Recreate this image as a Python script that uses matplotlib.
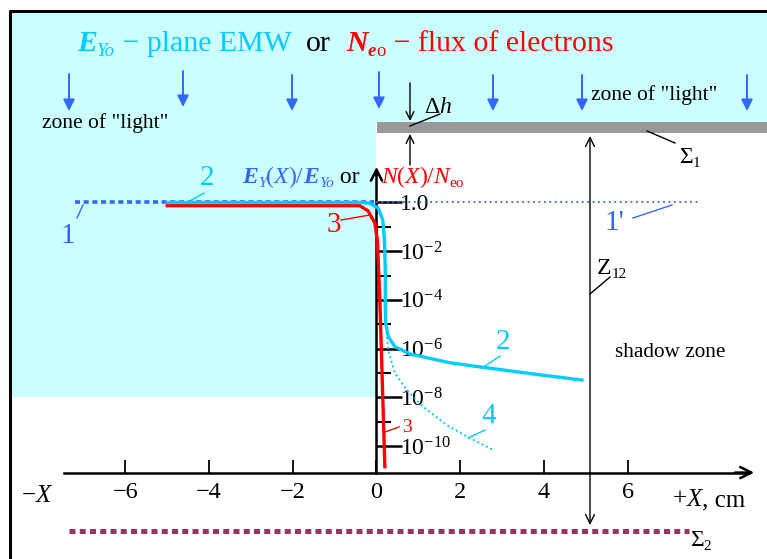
import matplotlib
matplotlib.use('Agg')
import matplotlib.pyplot as plt
from matplotlib.transforms import Affine2D
from matplotlib.patches import Rectangle
from matplotlib.ticker import FixedLocator, FixedFormatter, NullFormatter

plt.rcParams['font.family'] = ['Liberation Serif', 'DejaVu Serif']
plt.rcParams['mathtext.fontset'] = 'custom'
plt.rcParams['mathtext.rm'] = 'Liberation Serif'
plt.rcParams['mathtext.it'] = 'Liberation Serif:italic'
plt.rcParams['mathtext.bf'] = 'Liberation Serif:bold'

# ---------------- data ----------------
x_ticks = [-6, -4, -2, 0, 2, 4, 6]
x_tick_labels = ['\u22126', '\u22124', '\u22122', '0', '2', '4', '6']
y_major = [1.0, 1e-2, 1e-4, 1e-6, 1e-8, 1e-10]
y_major_labels = ['1.0', r'$10^{-2}$', r'$10^{-4}$', r'$10^{-6}$', r'$10^{-8}$', r'$10^{-10}$']
y_minor = [1e-1, 1e-3, 1e-5, 1e-7, 1e-9]

# curve 1 : plane EMW (dotted), left part and 1' right part
curve1_x = [-7.2, -0.05]
curve1_y = [1.0, 1.0]
curve1p_x = [0.0, 7.68]
curve1p_y = [1.0, 1.0]

# curve 2 : E_Y(X)/E_Yo
curve2_x = [-5.0, -0.35, -0.16, 0.04, 0.15, 0.19, 0.21, 0.21, 0.22, 0.28, 0.44, 0.80, 1.76, 2.55, 3.74, 4.91]
curve2_y = [1.0, 1.0, 0.93, 0.59, 0.19, 2.9e-2, 1.6e-3, 5.0e-5, 1.1e-5, 3.1e-6, 1.2e-6, 6.0e-7, 2.6e-7, 1.7e-7, 9.1e-8, 5.1e-8]

# curve 3 : N(X)/N_eo
curve3_x = [-5.0, -0.40, -0.20, -0.04, 0.02, 0.08, 0.20]
curve3_y = [0.74, 0.74, 0.45, 0.145, 2.9e-2, 1.0e-4, 1.4e-11]

# curve 4 : dotted branch
curve4_x = [0.19, 0.21, 0.22, 0.28, 0.44, 0.72, 1.11, 1.68, 2.23, 2.79]
curve4_y = [2.9e-2, 1.0e-3, 1.1e-5, 8.7e-7, 1.0e-7, 2.0e-8, 4.1e-9, 7.2e-10, 2.1e-10, 6.9e-11]

X_AXIS_Y = 8.1e-12   # level of the horizontal axis
Y_AXIS_TOP = 2.0e1

# colours
CYAN = '#00ccff'
BLUE = '#3366ff'
RED = '#ff0000'
BG = '#ccffff'
MAROON = '#993366'

W, H = 767, 559
fig = plt.figure(figsize=(W / 100, H / 100), dpi=100)
ax = fig.add_axes([0, 0, 1, 1])
ax.set_yscale('log')
ax.set_xlim(-8.996, 9.331)
ax.set_ylim(10 ** -14.641, 10 ** 8.316)
ax.patch.set_facecolor('white')

pix = Affine2D().scale(1 / W, -1 / H).translate(0, 1) + fig.transFigure
r = fig.canvas.get_renderer()

# ---------------- background ----------------
ax.add_patch(Rectangle((10, 11), 760, 111, transform=pix, facecolor=BG, edgecolor='none', zorder=0))
ax.add_patch(Rectangle((10, 122), 366, 275, transform=pix, facecolor=BG, edgecolor='none', zorder=0))
ax.add_patch(Rectangle((377, 122), 400, 11, transform=pix, facecolor='#999999', edgecolor='none', zorder=1))
ax.plot([10, 10, 780], [570, 11, 11], transform=pix, color='black', lw=2.2, zorder=5, clip_on=False)

# ---------------- axes (spines) ----------------
for s in ['left', 'top']:
    ax.spines[s].set_visible(False)
ax.spines['right'].set_position(('data', 0))
ax.spines['right'].set_bounds(X_AXIS_Y, 10 ** 1.2)
ax.spines['right'].set_linewidth(1.8)
ax.spines['bottom'].set_position(('data', X_AXIS_Y))
ax.spines['bottom'].set_bounds(-7.47, 8.9)
ax.spines['bottom'].set_linewidth(1.8)

ax.yaxis.set_ticks_position('right')
ax.yaxis.set_major_locator(FixedLocator(y_major))
ax.yaxis.set_major_formatter(FixedFormatter(y_major_labels))
ax.yaxis.set_minor_locator(FixedLocator(y_minor))
ax.yaxis.set_minor_formatter(NullFormatter())
ax.tick_params(axis='y', which='major', direction='out', length=18.5, width=1.8, pad=-1.5, labelsize=17)
ax.tick_params(axis='y', which='minor', direction='out', length=10.5, width=1.5)

ax.xaxis.set_ticks_position('bottom')
ax.set_xticks(x_ticks)
ax.set_xticklabels(x_tick_labels)
ax.xaxis.set_minor_locator(FixedLocator([]))
ax.tick_params(axis='x', which='major', direction='in', length=9.5, width=1.3, pad=7, labelsize=17.5)

ax.annotate('', xy=(9.09, X_AXIS_Y), xytext=(8.5, X_AXIS_Y),
            arrowprops=dict(arrowstyle='->', lw=1.8, color='black', mutation_scale=20))
ax.annotate('', xy=(0, Y_AXIS_TOP * 1.9), xytext=(0, 10 ** 1.0),
            arrowprops=dict(arrowstyle='->', lw=1.8, color='black', mutation_scale=20))

# ---------------- curves ----------------
ax.plot(curve1_x, curve1_y, color=BLUE, lw=2.6, dashes=(1.4, 1.0), solid_capstyle='butt',
        dash_capstyle='butt', zorder=3)
ax.plot(curve1p_x, curve1p_y, color=BLUE, lw=1.3, linestyle=(0, (1, 2)), zorder=3)
ax.plot(curve4_x, curve4_y, color=CYAN, lw=1.4, linestyle=(0, (1, 1.5)), zorder=3)
ax.plot(curve3_x, curve3_y, color=RED, lw=2.4, zorder=4, solid_joinstyle='round')
ax.plot(curve2_x, curve2_y, color=CYAN, lw=2.4, zorder=4, solid_joinstyle='round')

# ---------------- text helpers ----------------
def chain(x, y, pieces, align='left', zorder=6):
    items = []
    for txt, kw, dy in pieces:
        t = ax.text(0, 0, txt, transform=pix, va='baseline', ha='left', zorder=zorder, **kw)
        items.append((t, dy, t.get_window_extent(r).width))
    total = sum(w for _, _, w in items)
    if align == 'right':
        x -= total
    elif align == 'center':
        x -= total / 2
    for t, dy, w in items:
        t.set_position((x, y + dy))
        x += w


def kw(color='black', size=16, style='normal', weight='normal'):
    return dict(color=color, fontsize=size, fontstyle=style, fontweight=weight)


def seg(p0, p1, color='black', lw=1.0):
    ax.plot([p0[0], p1[0]], [p0[1], p1[1]], transform=pix, color=color, lw=lw, zorder=6)


def arrow(p0, p1, color='black', lw=1.0, style='->', ms=14):
    ax.annotate('', xy=p1, xytext=p0, xycoords=pix, textcoords=pix,
                arrowprops=dict(arrowstyle=style, color=color, lw=lw, mutation_scale=ms,
                                shrinkA=0, shrinkB=0), zorder=6)

# title
T = 21.5
S = 13.5
chain(77, 51, [
    ('E', kw(CYAN, T, 'italic', 'bold'), 0),
    ('Yo', kw(CYAN, S, 'italic'), 5),
    (' \u2212 plane EMW  ', kw(CYAN, T), 0),
    ('or', kw('black', T), 0),
    ('  ', kw('black', T), 0),
    ('N', kw(RED, T, 'italic', 'bold'), 0),
    ('e', kw(RED, S, 'italic', 'bold'), 5),
    ('o', kw(RED, S), 5),
    (' \u2212 flux of electrons', kw(RED, T), 0),
])

# incident arrows
arrow_x = [69, 183, 292, 379, 493, 582, 747]
arrow_top = [74, 71, 75, 72, 75, 75, 75]
arrow_bot = [111, 107, 111, 109, 111, 111, 111]
for xa, ya, yb in zip(arrow_x, arrow_top, arrow_bot):
    arrow((xa, ya), (xa, yb), color=BLUE, lw=1.4, style='-|>', ms=17)

ax.text(42, 128, 'zone of "light"', transform=pix, fontsize=15.5, va='baseline', zorder=6)
ax.text(591, 100, 'zone of "light"', transform=pix, fontsize=15.5, va='baseline', zorder=6)
ax.text(615, 357, 'shadow zone', transform=pix, fontsize=15.3, va='baseline', zorder=6)

# delta h
arrow((410, 83), (410, 121), lw=1.0, ms=14)
arrow((410, 165), (410, 134), lw=1.0, ms=14)
seg((410, 126), (440, 114))
chain(424, 113, [('\u0394', kw('black', 17), 0), ('h', kw('black', 17, 'italic'), 0)])

# Sigma 1
seg((647, 131), (675, 143))
chain(679, 163, [('\u03a3', kw('black', 17), 0), ('1', kw('black', 11), 4)])

# Z12
arrow((590, 136), (590, 525), lw=1.0, style='<->', ms=16)
seg((590, 294), (610, 277))
chain(597, 274, [('Z', kw('black', 17), 0), ('12', kw('black', 11), 4)])

# Sigma 2
ax.plot([69, 689], [531, 531], transform=pix, color=MAROON, lw=3.6, dashes=(1.2, 0.85),
        dash_capstyle='butt', zorder=6)
chain(690, 546, [('\u03a3', kw('black', 17), 0), ('2', kw('black', 11), 4)])

# axis labels
L = 17
LS = 11
chain(359, 183, [
    ('E', kw(BLUE, L, 'italic', 'bold'), 0),
    ('Y', kw(BLUE, LS, 'italic'), 4),
    ('(', kw(BLUE, L), 0),
    ('X', kw(BLUE, L, 'italic'), 0),
    (')/', kw(BLUE, L), 0),
    ('E', kw(BLUE, L, 'italic', 'bold'), 0),
    ('Yo', kw(BLUE, LS, 'italic'), 4),
    (' or', kw('black', L), 0),
], align='right')
chain(381, 183, [
    ('N', kw(RED, L, 'italic'), 0),
    ('(', kw(RED, L), 0),
    ('X', kw(RED, L, 'italic'), 0),
    (')/', kw(RED, L), 0),
    ('N', kw(RED, L, 'italic'), 0),
    ('eo', kw(RED, LS), 4),
])
chain(22, 502, [('\u2212', kw('black', 18), 0), ('X', kw('black', 18, 'italic'), 0)])
chain(673, 506, [('+', kw('black', 18), 0), ('X', kw('black', 18, 'italic'), 0),
                 (', cm', kw('black', 18), 0)])

# curve number labels
def num(x, y, s, color, size=21):
    ax.text(x, y, s, transform=pix, color=color, fontsize=size, ha='center', va='center', zorder=6)

num(68, 236, '1', BLUE)
seg((77, 218), (83, 205), BLUE)
num(207, 178, '2', CYAN)
seg((188, 202), (204, 193), CYAN)
num(334, 225, '3', RED)
seg((341, 220), (370, 215), RED)
num(614, 223, "1'", BLUE)
seg((633, 218), (672, 205), BLUE)
num(503, 342, '2', CYAN)
seg((482, 368), (500, 356), CYAN)
num(489, 416, '4', CYAN)
seg((468, 438), (485, 430), CYAN)
num(407, 427, '3', RED, 14)
seg((385, 432), (399, 427), RED)

fig.savefig('out.png', dpi=100)
